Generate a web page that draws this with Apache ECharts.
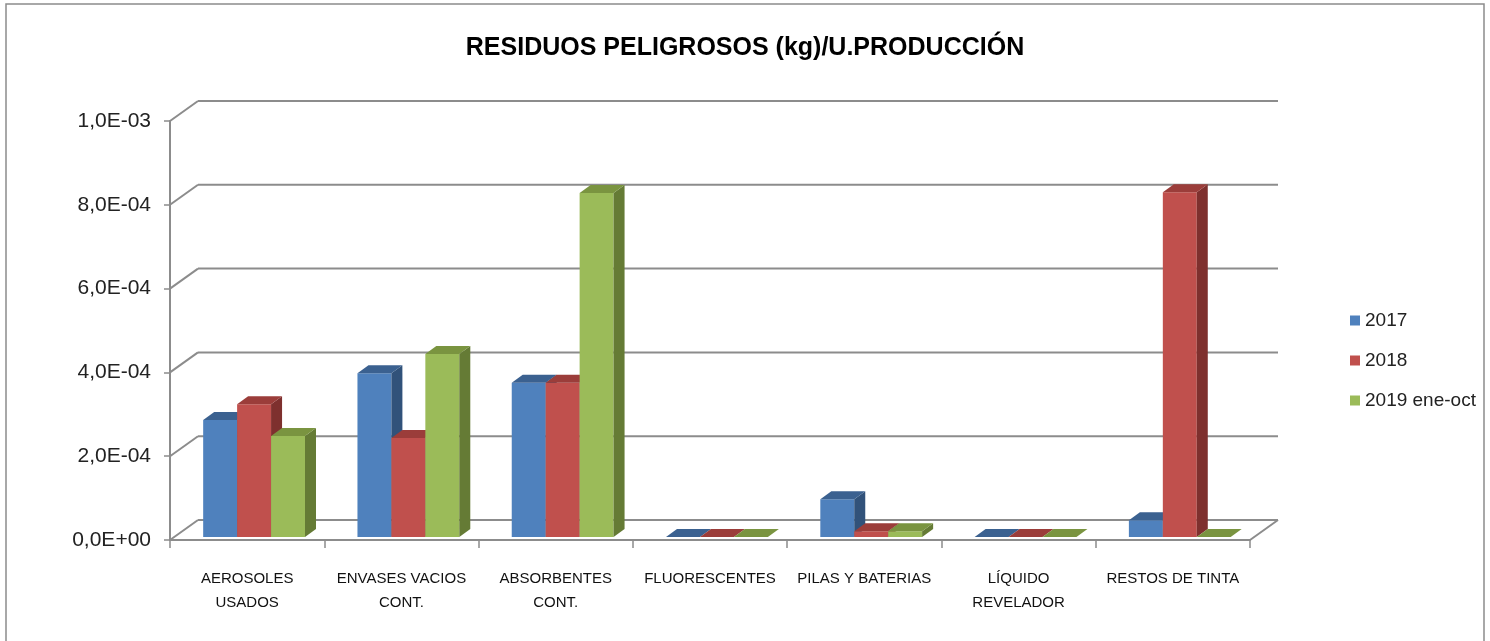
<!DOCTYPE html>
<html>
<head>
<meta charset="utf-8">
<script src="https://cdn.jsdelivr.net/npm/echarts@6/dist/echarts.min.js"></script>
<style>
  html, body { margin: 0; padding: 0; background: #fff; }
  #chart { width: 1490px; height: 641px; }
</style>
</head>
<body>
<div id="chart"></div>
<script>
var categories = ['AEROSOLES\nUSADOS', 'ENVASES VACIOS\nCONT.', 'ABSORBENTES\nCONT.', 'FLUORESCENTES', 'PILAS Y BATERIAS', 'LÍQUIDO\nREVELADOR', 'RESTOS DE TINTA']
var seriesNames = ['2017', '2018', '2019 ene-oct']
var v2017 = [2.79e-4, 3.91e-4, 3.68e-4, 0, 0.90e-4, 0, 0.40e-4]
var v2018 = [3.17e-4, 2.36e-4, 3.68e-4, 0, 0.14e-4, 0, 8.23e-4]
var v2019 = [2.41e-4, 4.37e-4, 8.21e-4, 0, 0.14e-4, 0, 0]
var yTicks = [0, 2e-4, 4e-4, 6e-4, 8e-4, 1e-3]
var yTickLabels = ['0,0E+00', '2,0E-04', '4,0E-04', '6,0E-04', '8,0E-04', '1,0E-03']

// colores: frente, superior, lateral
var palette = [
    ['#4F81BD', '#3B6190', '#31527A'],
    ['#C0504D', '#9B3D3A', '#7E302E'],
    ['#9BBB59', '#7A9440', '#657B35']
]
var depthX = 28, depthY = -20     // fondo de la caja 3D
var barDX = 11, barDY = -8        // profundidad de cada barra
var barOffX = 0, barOffY = -3

var chart = echarts.init(document.getElementById('chart'))

function wallItem(params, api) {
    var cs = params.coordSys
    var y = api.coord([0, api.value(0)])[1]
    var x0 = cs.x, x1 = cs.x + cs.width
    var st = { stroke: '#8C8C8C', lineWidth: 2 }
    var kids = [
        { type: 'line', shape: { x1: x0, y1: y, x2: x0 + depthX, y2: y + depthY }, style: st },
        { type: 'line', shape: { x1: x0 + depthX, y1: y + depthY, x2: x1 + depthX, y2: y + depthY }, style: st }
    ]
    if (api.value(0) === 0) {
        kids.push({ type: 'line', shape: { x1: x1, y1: y, x2: x1 + depthX, y2: y + depthY }, style: st })
    }
    return { type: 'group', children: kids }
}

function barRenderer(idx) {
    return function (params, api) {
        var i = api.value(0)
        var base = api.coord([i, 0])
        var top = api.coord([i, api.value(1)])
        var catW = api.size([1, 0])[0]
        var w = catW * 0.22
        var x = base[0] - catW * 0.285 + idx * w + barOffX
        var yb = base[1] + barOffY
        var yt = top[1] + barOffY
        var c = palette[idx]
        return {
            type: 'group',
            children: [
                { type: 'rect', shape: { x: x, y: yt, width: w, height: yb - yt }, style: { fill: c[0] } },
                { type: 'polygon', shape: { points: [[x + w, yt], [x + w + barDX, yt + barDY], [x + w + barDX, yb + barDY], [x + w, yb]] }, style: { fill: c[2] } },
                { type: 'polygon', shape: { points: [[x, yt], [x + barDX, yt + barDY], [x + w + barDX, yt + barDY], [x + w, yt]] }, style: { fill: c[1] } }
            ]
        }
    }
}

var allValues = [v2017, v2018, v2019]
var series = [{
    name: 'wall',
    type: 'custom',
    renderItem: wallItem,
    data: yTicks.map(function (t) { return [t] }),
    encode: { y: 0 },
    silent: true,
    z: 1
}]
allValues.forEach(function (vals, k) {
    series.push({
        name: seriesNames[k],
        type: 'custom',
        renderItem: barRenderer(k),
        itemStyle: { color: palette[k][0] },
        data: vals.map(function (v, i) { return [i, v] }),
        encode: { x: 0, y: 1 },
        z: 2 + k
    })
})

var option = {
    animation: false,
    backgroundColor: '#fff',
    title: {
        text: 'RESIDUOS PELIGROSOS (kg)/U.PRODUCCIÓN',
        left: 'center',
        top: 31,
        textStyle: { fontFamily: 'Liberation Sans', fontWeight: 'bold', fontSize: 25, color: '#000' }
    },
    legend: {
        orient: 'vertical',
        left: 1345,
        top: 306,
        itemWidth: 10,
        itemHeight: 10,
        itemGap: 21,
        icon: 'rect',
        data: seriesNames,
        textStyle: { fontFamily: 'Liberation Sans', fontSize: 19, color: '#222', lineHeight: 19 }
    },
    graphic: [{
        type: 'rect',
        shape: { x: 6, y: 4, width: 1478, height: 700 },
        style: { fill: 'none', stroke: '#8C8C8C', lineWidth: 1.5 },
        z: -1
    }],
    grid: { left: 170, right: 240, top: 121, bottom: 101 },
    xAxis: {
        type: 'category',
        data: categories,
        axisLine: { lineStyle: { color: '#8C8C8C', width: 2 } },
        axisTick: { show: true, length: 8, lineStyle: { color: '#8C8C8C', width: 1.5 } },
        axisLabel: {
            interval: 0,
            margin: 27,
            lineHeight: 24,
            fontFamily: '"Liberation Sans Narrow", "Liberation Sans", sans-serif',
            fontSize: 15,
            color: '#111'
        }
    },
    yAxis: {
        type: 'value',
        min: 0,
        max: 1e-3,
        interval: 2e-4,
        splitLine: { show: false },
        axisLine: { show: true, lineStyle: { color: '#8C8C8C', width: 2 } },
        axisTick: { show: true, length: 6, lineStyle: { color: '#8C8C8C', width: 1.5 } },
        axisLabel: {
            margin: 19,
            fontFamily: 'Liberation Sans',
            fontSize: 21,
            color: '#222',
            formatter: function (v) { return yTickLabels[Math.round(v / 2e-4)] }
        }
    },
    series: series
}

chart.setOption(option)
</script>
</body>
</html>
